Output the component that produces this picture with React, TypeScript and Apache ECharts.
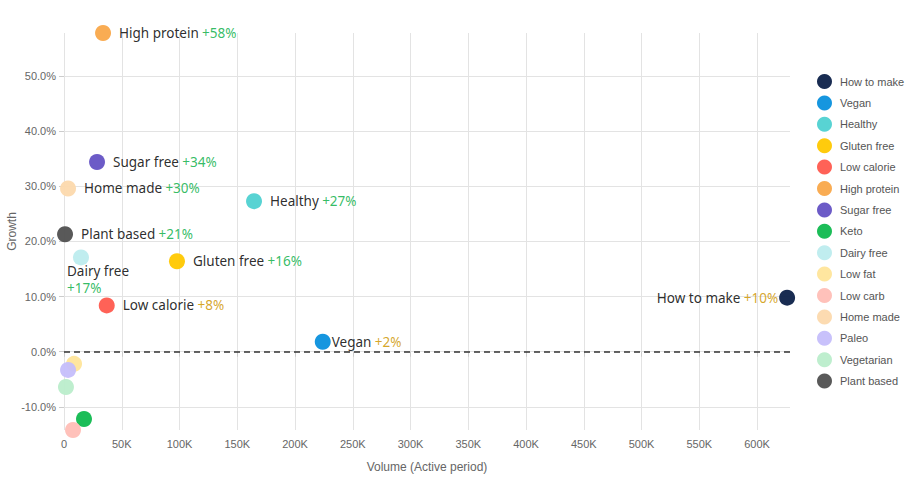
import React, { useEffect, useRef } from "react";
import * as echarts from "echarts";

const names = [
  "How to make", "Vegan", "Healthy", "Gluten free", "Low calorie", "High protein",
  "Sugar free", "Keto", "Dairy free", "Low fat", "Low carb", "Home made",
  "Paleo", "Vegetarian", "Plant based",
];
const volumes = [626000, 224000, 164500, 97800, 37000, 33800, 28600, 17300, 14700, 8700, 7800, 3500, 3500, 1700, 900];
const growths = [9.8, 1.8, 27.3, 16.4, 8.4, 57.8, 34.4, -12.2, 17.1, -2.2, -14.2, 29.6, -3.3, -6.4, 21.3];
const growthLabels = ["+10%", "+2%", "+27%", "+16%", "+8%", "+58%", "+34%", "", "+17%", "", "", "+30%", "", "", "+21%"];
const colors = [
  "#0d2149", "#0a90dd", "#4fd1d1", "#ffc800", "#ff5a4e", "#f9a84a", "#6452c4", "#10b94f",
  "#bdecee", "#ffe59a", "#ffbeb6", "#fcd9ad", "#c5befb", "#baedcb", "#505050",
];

const GREEN = "#2bb85c";
const GOLD = "#d4a21c";

export default function App() {
  const ref = useRef<HTMLDivElement>(null);
  useEffect(() => {
    document.body.style.margin = "0";
    const chart = echarts.init(ref.current!, undefined, { renderer: "svg" });
    const labelFont = "Noto Sans";
    const rich = {
      n: { fontFamily: labelFont, fontSize: 13.5, color: "#222" },
      g: { fontFamily: labelFont, fontSize: 13.5, color: GREEN },
      y: { fontFamily: labelFont, fontSize: 13.5, color: GOLD },
    };
    const series: any[] = names.map((name, i) => {
      const gl = growthLabels[i];
      const tag = growths[i] >= 12 ? "g" : "y";
      let label: any = { show: false };
      if (gl) {
        if (name === "Dairy free") {
          label = {
            show: true,
            position: [-6, 13],
            align: "left",
            verticalAlign: "top",
            formatter: `{n|${name}}\n{${tag}|${gl}}`,
            rich: {
              n: { ...rich.n, lineHeight: 17 },
              g: { ...rich.g, lineHeight: 17 },
              y: { ...rich.y, lineHeight: 17 },
            },
          };
        } else if (name === "How to make") {
          label = { show: true, position: "left", distance: 1, formatter: `{n|${name}} {${tag}|${gl}}`, rich };
        } else if (name === "Vegan") {
          label = { show: true, position: "right", distance: 1, formatter: `{n|${name}} {${tag}|${gl}}`, rich };
        } else {
          label = { show: true, position: "right", distance: 8, formatter: `{n|${name}} {${tag}|${gl}}`, rich };
        }
      }
      const s: any = {
        name,
        type: "scatter",
        symbolSize: 16,
        itemStyle: { color: colors[i], opacity: 0.95 },
        label,
        data: [[volumes[i], growths[i]]],
      };
      if (i === 0) {
        s.markLine = {
          silent: true,
          symbol: "none",
          label: { show: false },
          lineStyle: { color: "#333", type: [6, 4], width: 1.5 },
          data: [{ yAxis: 0 }],
        };
      }
      return s;
    });

    chart.setOption({
      animation: false,
      textStyle: { fontFamily: "Liberation Sans" },
      grid: { left: 64, right: 115, top: 33, bottom: 51, containLabel: false, outerBoundsMode: "none" },
      legend: {
        orient: "vertical",
        left: 812,
        top: 69,
        icon: "circle",
        itemWidth: 15,
        itemHeight: 15,
        itemGap: 6.4,
        textStyle: { fontSize: 11, color: "#555", fontFamily: "Liberation Sans", padding: [0, 0, 0, 3] },
        data: names,
      },
      xAxis: {
        type: "value",
        min: 0,
        max: 628500,
        splitNumber: 12,
        name: "Volume (Active period)",
        nameLocation: "middle",
        nameGap: 31,
        nameMoveOverlap: false,
        nameTextStyle: { fontSize: 12, color: "#666" },
        axisLine: { show: false },
        axisTick: { show: true, length: 5, lineStyle: { color: "#ccc" } },
        axisLabel: {
          fontSize: 11,
          color: "#666",
          showMaxLabel: false,
          formatter: (v: number) => (v === 0 ? "0" : `${v / 1000}K`),
        },
        splitLine: { show: true, showMaxLine: false, lineStyle: { color: "#e3e3e3" } },
      },
      yAxis: {
        type: "value",
        min: "dataMin",
        max: "dataMax",
        splitNumber: 7,
        name: "Growth",
        nameLocation: "middle",
        nameGap: 46,
        nameMoveOverlap: false,
        nameRotate: 90,
        nameTextStyle: { fontSize: 12, color: "#666" },
        axisLine: { show: false },
        axisTick: { show: true, length: 5, lineStyle: { color: "#ccc" } },
        axisLabel: {
          fontSize: 11,
          color: "#666",
          showMinLabel: false,
          showMaxLabel: false,
          formatter: (v: number) => `${v.toFixed(1)}%`,
        },
        splitLine: { show: true, showMinLine: false, showMaxLine: false, lineStyle: { color: "#e3e3e3" } },
      },
      series,
    });
    return () => chart.dispose();
  }, []);
  return <div ref={ref} style={{ width: 905, height: 481 }} />;
}
